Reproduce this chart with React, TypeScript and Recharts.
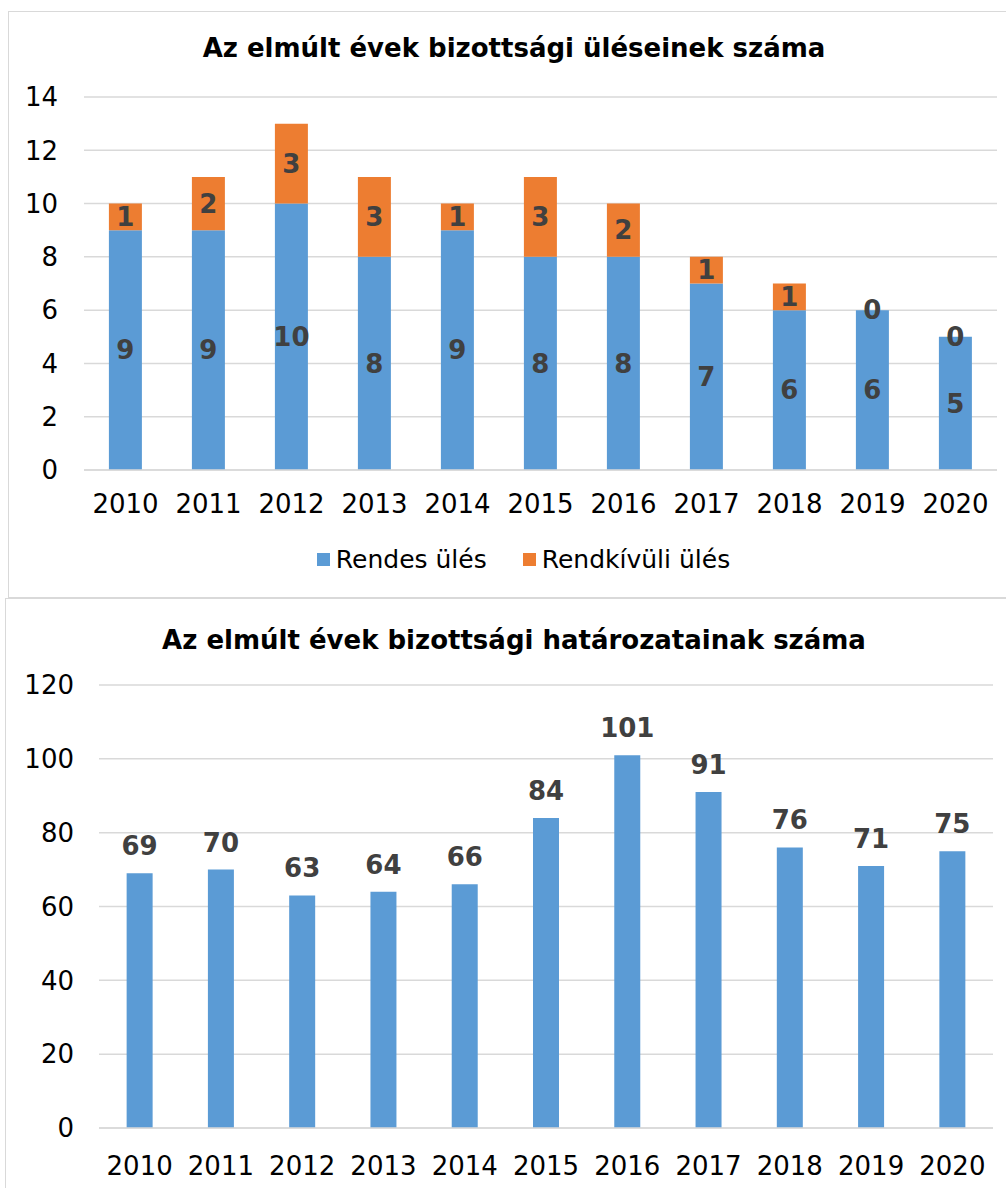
import React from 'react';
import {
  BarChart,
  Bar,
  XAxis,
  YAxis,
  CartesianGrid,
  Legend,
  LabelList,
} from 'recharts';

const years = ['2010', '2011', '2012', '2013', '2014', '2015', '2016', '2017', '2018', '2019', '2020'];
const rendesUles = [9, 9, 10, 8, 9, 8, 8, 7, 6, 6, 5];
const rendkivuliUles = [1, 2, 3, 3, 1, 3, 2, 1, 1, 0, 0];
const hatarozatok = [69, 70, 63, 64, 66, 84, 101, 91, 76, 71, 75];

const ulesTicks = [0, 2, 4, 6, 8, 10, 12, 14];
const hatarozatTicks = [0, 20, 40, 60, 80, 100, 120];

const ulesData = years.map((year, i) => ({
  year,
  rendes: rendesUles[i],
  rendkivuli: rendkivuliUles[i],
}));
const hatarozatData = years.map((year, i) => ({ year, db: hatarozatok[i] }));

const FONT = '"DejaVu Sans", Verdana, sans-serif';
const BLUE = '#5B9BD5';
const ORANGE = '#ED7D31';
const GRID = '#d9d9d9';
const LABEL = '#404040';
const FS = 26;

const titleStyle: React.CSSProperties = {
  position: 'absolute',
  left: 0,
  width: 1028,
  textAlign: 'center',
  fontFamily: FONT,
  fontWeight: 'bold',
  fontSize: FS,
  color: '#000',
  lineHeight: '30px',
};

const renderLegend = () => (
  <div style={{ display: 'flex', justifyContent: 'center', gap: 36, paddingLeft: 50, fontFamily: FONT, fontSize: 25, color: '#000' }}>
    {[
      { name: 'Rendes ülés', color: BLUE },
      { name: 'Rendkívüli ülés', color: ORANGE },
    ].map((item) => (
      <span key={item.name} style={{ display: 'flex', alignItems: 'center' }}>
        <span style={{ width: 13, height: 13, background: item.color, display: 'inline-block', marginRight: 6 }} />
        {item.name}
      </span>
    ))}
  </div>
);

// a 0 értékű (nulla magasságú) rendkívüli szakaszok címkéje a kék oszlop tetejére kerül
const zeroTopLabel = (props: any) => {
  const { x, y, width, value } = props;
  if (value !== 0) return null;
  return (
    <text
      x={x + width / 2}
      y={y}
      textAnchor="middle"
      dominantBaseline="central"
      fill={LABEL}
      fontSize={FS}
      fontWeight="bold"
      fontFamily={FONT}
    >
      {value}
    </text>
  );
};

export default function App() {
  return (
    <div style={{ position: 'absolute', left: 0, top: 0, width: 1006, height: 1188, overflow: 'hidden', background: '#fff' }}>
      {/* felső diagram: ülések */}
      <div style={{ position: 'absolute', left: 8, top: 11, width: 1020, height: 587, border: `1.5px solid ${GRID}`, boxSizing: 'border-box' }} />
      <div style={{ ...titleStyle, top: 33 }}>Az elmúlt évek bizottsági üléseinek száma</div>
      <div style={{ position: 'absolute', left: 0, top: 0 }}>
        <BarChart
          width={1006}
          height={598}
          data={ulesData}
          margin={{ top: 97, right: 9, bottom: 98, left: 0 }}
          barCategoryGap="30%"
        >
          <CartesianGrid vertical={false} stroke={GRID} strokeWidth={1.5} />
          <XAxis
            dataKey="year"
            axisLine={{ stroke: GRID, strokeWidth: 1.5 }}
            tickLine={false}
            tickSize={0}
            tickMargin={25}
            tick={{ fontSize: FS, fill: '#000', fontFamily: FONT }}
          />
          <YAxis
            width={84}
            domain={[0, 14]}
            ticks={ulesTicks}
            axisLine={false}
            tickLine={false}
            tickSize={0}
            tickMargin={26}
            tick={{ fontSize: FS, fill: '#000', fontFamily: FONT }}
          />
          <Legend verticalAlign="middle" align="center" wrapperStyle={{ top: 545 }} content={renderLegend} />
          <Bar dataKey="rendes" name="Rendes ülés" stackId="a" fill={BLUE} isAnimationActive={false}>
            <LabelList dataKey="rendes" position="center" fill={LABEL} fontSize={FS} fontWeight="bold" fontFamily={FONT} />
            <LabelList dataKey="rendkivuli" content={zeroTopLabel} />
          </Bar>
          <Bar dataKey="rendkivuli" name="Rendkívüli ülés" stackId="a" fill={ORANGE} isAnimationActive={false}>
            <LabelList dataKey="rendkivuli" position="center" fill={LABEL} fontSize={FS} fontWeight="bold" fontFamily={FONT} />
          </Bar>
        </BarChart>
      </div>

      {/* alsó diagram: határozatok */}
      <div style={{ position: 'absolute', left: 5, top: 598, width: 1020, height: 620, border: `1.5px solid ${GRID}`, boxSizing: 'border-box' }} />
      <div style={{ ...titleStyle, top: 625 }}>Az elmúlt évek bizottsági határozatainak száma</div>
      <div style={{ position: 'absolute', left: 0, top: 598 }}>
        <BarChart
          width={1006}
          height={590}
          data={hatarozatData}
          margin={{ top: 87, right: 13, bottom: 30, left: 0 }}
          barCategoryGap="34%"
        >
          <CartesianGrid vertical={false} stroke={GRID} strokeWidth={1.5} />
          <XAxis
            dataKey="year"
            axisLine={{ stroke: GRID, strokeWidth: 1.5 }}
            tickLine={false}
            tickSize={0}
            tickMargin={29}
            tick={{ fontSize: FS, fill: '#000', fontFamily: FONT }}
          />
          <YAxis
            width={99}
            domain={[0, 120]}
            ticks={hatarozatTicks}
            axisLine={false}
            tickLine={false}
            tickSize={0}
            tickMargin={25}
            tick={{ fontSize: FS, fill: '#000', fontFamily: FONT }}
          />
          <Bar dataKey="db" fill={BLUE} isAnimationActive={false}>
            <LabelList dataKey="db" position="top" offset={18} fill={LABEL} fontSize={FS} fontWeight="bold" fontFamily={FONT} />
          </Bar>
        </BarChart>
      </div>
    </div>
  );
}
